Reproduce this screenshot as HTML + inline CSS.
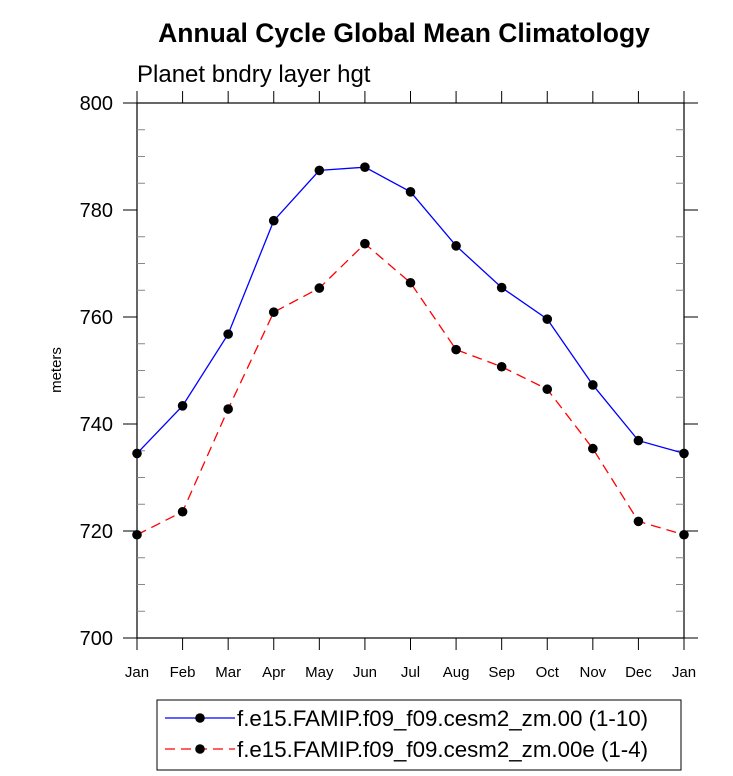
<!DOCTYPE html>
<html><head><meta charset="utf-8"><style>
body{margin:0;background:#fff}
svg{display:block;font-family:"Liberation Sans",sans-serif}
</style></head><body>
<svg id="c" width="733" height="776">
<text x="404" y="42" text-anchor="middle" font-size="26.5" font-weight="bold">Annual Cycle Global Mean Climatology</text>
<text x="137" y="82" font-size="24">Planet bndry layer hgt</text>
<text transform="translate(61,370) rotate(-90)" text-anchor="middle" font-size="15">meters</text>
<g id="axes"></g><g id="series"></g>
<rect x="157" y="700" width="524" height="70" fill="none" stroke="#000" stroke-width="1"/>
<g>
<line x1="165" y1="718" x2="235" y2="718" stroke="#0000ff" stroke-width="1.3"/>
<circle cx="200" cy="718" r="4.8" fill="#000"/>
<text x="237" y="726" font-size="22.3">f.e15.FAMIP.f09_f09.cesm2_zm.00 (1-10)</text></g>
<g>
<line x1="165" y1="749" x2="235" y2="749" stroke="#ff0000" stroke-width="1.3" stroke-dasharray="10,6"/>
<circle cx="200" cy="749" r="4.8" fill="#000"/>
<text x="237" y="757" font-size="22.3">f.e15.FAMIP.f09_f09.cesm2_zm.00e (1-4)</text></g>
</svg>
<script>
const months=["Jan","Feb","Mar","Apr","May","Jun","Jul","Aug","Sep","Oct","Nov","Dec","Jan"];
const blueValues=[734.5,743.4,756.8,778.0,787.4,788.0,783.4,773.3,765.5,759.6,747.3,736.9,734.5];
const redValues=[719.3,723.6,742.8,760.9,765.4,773.7,766.4,753.9,750.7,746.5,735.4,721.8,719.3];
const yTicks=[700,720,740,760,780,800];
const NS="http://www.w3.org/2000/svg";
const L=137,R=684,T=103,B=638,ymin=700,ymax=800;
const xs=i=>L+(R-L)*i/(months.length-1);
const ys=v=>B-(v-ymin)/(ymax-ymin)*(B-T);
function mk(tag,attrs,parent){const e=document.createElementNS(NS,tag);for(const k in attrs)e.setAttribute(k,attrs[k]);parent.appendChild(e);return e;}
const ax=document.getElementById('axes');
const frame=mk('rect',{x:L,y:T,width:R-L,height:B-T,fill:'none',stroke:'#000','stroke-width':1.2},ax);


for(let v=ymin;v<=ymax;v+=5){
  if(v%20===0){
    mk('line',{x1:L-14,y1:ys(v),x2:L,y2:ys(v),stroke:'#000'},ax);
    mk('line',{x1:R,y1:ys(v),x2:R+14,y2:ys(v),stroke:'#000'},ax);
  }else{
    mk('line',{x1:L,y1:ys(v),x2:L+8,y2:ys(v),stroke:'#888'},ax);
    mk('line',{x1:R-8,y1:ys(v),x2:R,y2:ys(v),stroke:'#888'},ax);
  }
}
yTicks.forEach(v=>{
  const t=mk('text',{x:113,y:ys(v)+7,'text-anchor':'end','font-size':20},ax);
  t.textContent=v;
  
  
});
months.forEach((m,i)=>{
  mk('line',{x1:xs(i),y1:B,x2:xs(i),y2:B+12,stroke:'#000'},ax);
  mk('line',{x1:xs(i),y1:T-12,x2:xs(i),y2:T,stroke:'#000'},ax);
  const t=mk('text',{x:xs(i),y:677,'text-anchor':'middle','font-size':15},ax);
  t.textContent=m;
  
  
});
const sg=document.getElementById('series');
function series(vals,color,dash,name){
  const g=mk('g',{},sg);
  
  
  const p=mk('polyline',{points:vals.map((v,i)=>xs(i)+','+ys(v)).join(' '),fill:'none',stroke:color,'stroke-width':1.3},g);
  if(dash)p.setAttribute('stroke-dasharray',dash);
  vals.forEach((v,i)=>{
    const c=mk('circle',{cx:xs(i),cy:ys(v),r:4.8,fill:'#000'},g);
    
    
  });
}
series(blueValues,'#0000ff',null,'series-zm00');
series(redValues,'#ff0000','10,6','series-zm00e');
</script>
</body></html>
